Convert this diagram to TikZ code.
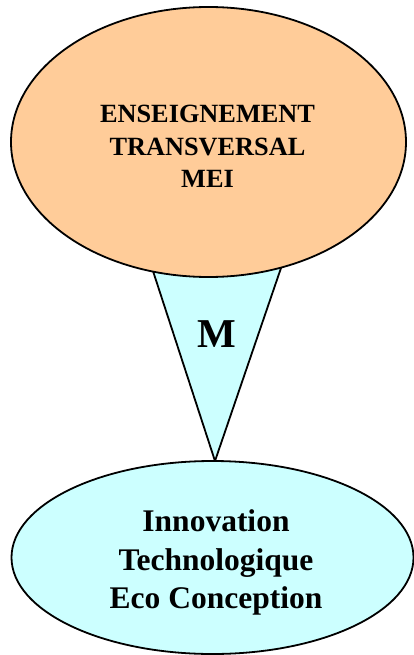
\documentclass[tikz,border=0pt]{standalone}
\usepackage{fontspec}
\setmainfont{Liberation Serif}
\usetikzlibrary{shapes.geometric}
\definecolor{peach}{RGB}{255,204,153}
\definecolor{paleaqua}{RGB}{204,255,255}
\begin{document}
\begin{tikzpicture}[x=1pt, y=-1pt, line width=1.8pt,
  bubble/.style={ellipse, draw=black, inner sep=0pt},
  caption/.style={align=center, inner sep=0pt, anchor=base, font=\bfseries}]
\useasboundingbox (0,0) rectangle (414,655);
% funnel linking the two themes
\coordinate (tl) at (152,268);
\coordinate (tr) at (281,268);
\coordinate (tip) at (215,461);
\draw[fill=paleaqua, line join=miter] (tl) -- (tip) -- (tr) -- cycle;
% the two themes
\node[bubble, fill=peach, minimum width=395pt, minimum height=270pt] (top) at (208.5,142) {};
\node[bubble, fill=paleaqua, minimum width=402pt, minimum height=193pt] (bottom) at (212.5,557.5) {};
% labels (anchored on the baseline of their last line)
\node[caption, font=\bfseries\fontsize{26.3}{32.3}\selectfont] (toplabel) at (207.5,187.3)
  {ENSEIGNEMENT\\TRANSVERSAL\\MEI};
\node[caption, font=\bfseries\fontsize{31.5}{38.3}\selectfont] (bottomlabel) at (216,608.3)
  {Innovation\\Technologique\\Eco Conception};
\node[caption, font=\bfseries\fontsize{41}{41}\selectfont] (mlabel) at (217,347) {M};
\end{tikzpicture}
\end{document}
